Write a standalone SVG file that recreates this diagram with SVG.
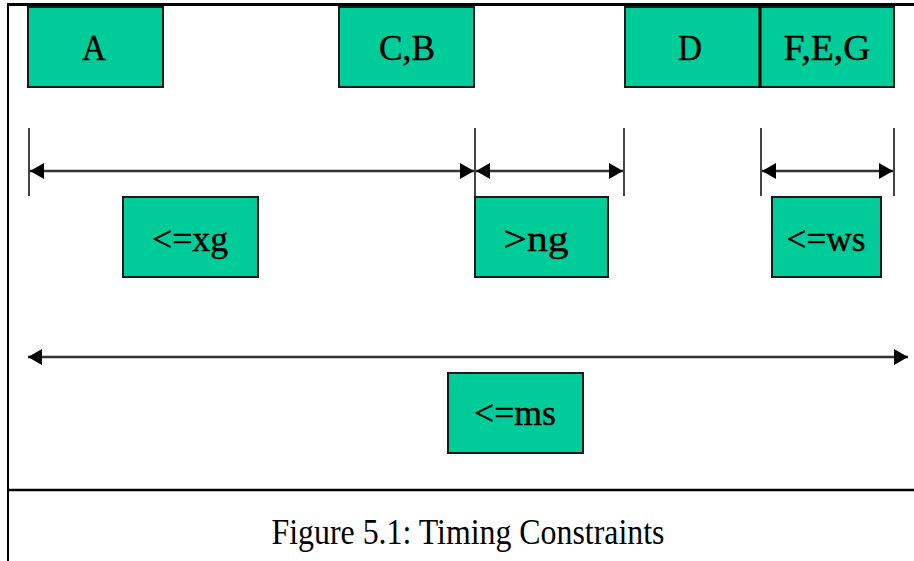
<svg xmlns="http://www.w3.org/2000/svg" width="914" height="561" viewBox="0 0 914 561">
<style>
.box{fill:#00cc99;stroke:#1a1a1a;stroke-width:2}
.lbl{font-family:"Liberation Serif","Times New Roman",serif;font-size:35px;fill:#000;text-anchor:middle;stroke:#000;stroke-width:0.4}
.tick{stroke:#444;stroke-width:2}
.dim{stroke:#333;stroke-width:2.5;fill:none;marker-start:url(#ah);marker-end:url(#ah)}
.frame{stroke:#000;fill:none}
</style>
<defs>
<marker id="ah" viewBox="0 0 14 16" refX="14" refY="8" markerWidth="14" markerHeight="16" markerUnits="userSpaceOnUse" orient="auto-start-reverse">
<path d="M0,0 L14,8 L0,16 Z" fill="#000"/>
</marker>
</defs>
<rect width="914" height="561" fill="#fff"/>
<g id="frame">
<line class="frame" x1="8" y1="4.5" x2="914" y2="4.5" stroke-width="3"/>
<line class="frame" x1="8" y1="3" x2="8" y2="561" stroke-width="2"/>
<line class="frame" x1="8" y1="490" x2="914" y2="490" stroke-width="2.5"/>
</g>
<g id="connectors">
<line class="tick" x1="29" y1="128" x2="29" y2="196"/>
<line class="tick" x1="475" y1="128" x2="475" y2="197"/>
<line class="tick" x1="624" y1="128" x2="624" y2="196"/>
<line class="tick" x1="761" y1="128" x2="761" y2="196"/>
<line class="tick" x1="894" y1="128" x2="894" y2="196"/>
<line class="dim" x1="30" y1="171" x2="474" y2="171"/>
<line class="dim" x1="476" y1="171" x2="623" y2="171"/>
<line class="dim" x1="762" y1="171" x2="893" y2="171"/>
<line class="dim" x1="28" y1="357" x2="908" y2="357"/>
</g>
<g id="nodeA"><rect class="box" x="28" y="7" width="135" height="80"/><text class="lbl" x="94" y="60" textLength="24" lengthAdjust="spacingAndGlyphs">A</text></g>
<g id="nodeCB"><rect class="box" x="339" y="7" width="135" height="80"/><text class="lbl" x="407" y="60" textLength="56" lengthAdjust="spacingAndGlyphs">C,B</text></g>
<g id="nodeD"><rect class="box" x="625" y="7" width="135" height="80"/><text class="lbl" x="690" y="60" textLength="24" lengthAdjust="spacingAndGlyphs">D</text></g>
<g id="nodeFEG"><rect class="box" x="760" y="7" width="134" height="80"/><line x1="760" y1="6" x2="760" y2="88" stroke="#000" stroke-width="3"/><text class="lbl" x="827" y="60" textLength="87" lengthAdjust="spacingAndGlyphs">F,E,G</text></g>
<g id="nodeXG"><rect class="box" x="123" y="197" width="135" height="80"/><text class="lbl" x="190" y="251" textLength="76" lengthAdjust="spacingAndGlyphs">&lt;=xg</text></g>
<g id="nodeNG"><rect class="box" x="475" y="197" width="133" height="80"/><text class="lbl" x="536" y="251" textLength="65" lengthAdjust="spacingAndGlyphs">&gt;ng</text></g>
<g id="nodeWS"><rect class="box" x="772" y="197" width="109" height="80"/><text class="lbl" x="826" y="251" textLength="79" lengthAdjust="spacingAndGlyphs">&lt;=ws</text></g>
<g id="nodeMS"><rect class="box" x="448" y="373" width="135" height="80"/><text class="lbl" x="515" y="425" textLength="82" lengthAdjust="spacingAndGlyphs">&lt;=ms</text></g>
<g id="caption"><text x="468" y="544" font-family="Liberation Serif,'Times New Roman',serif" font-size="35" text-anchor="middle" textLength="393" lengthAdjust="spacingAndGlyphs">Figure 5.1: Timing Constraints</text></g>
</svg>
